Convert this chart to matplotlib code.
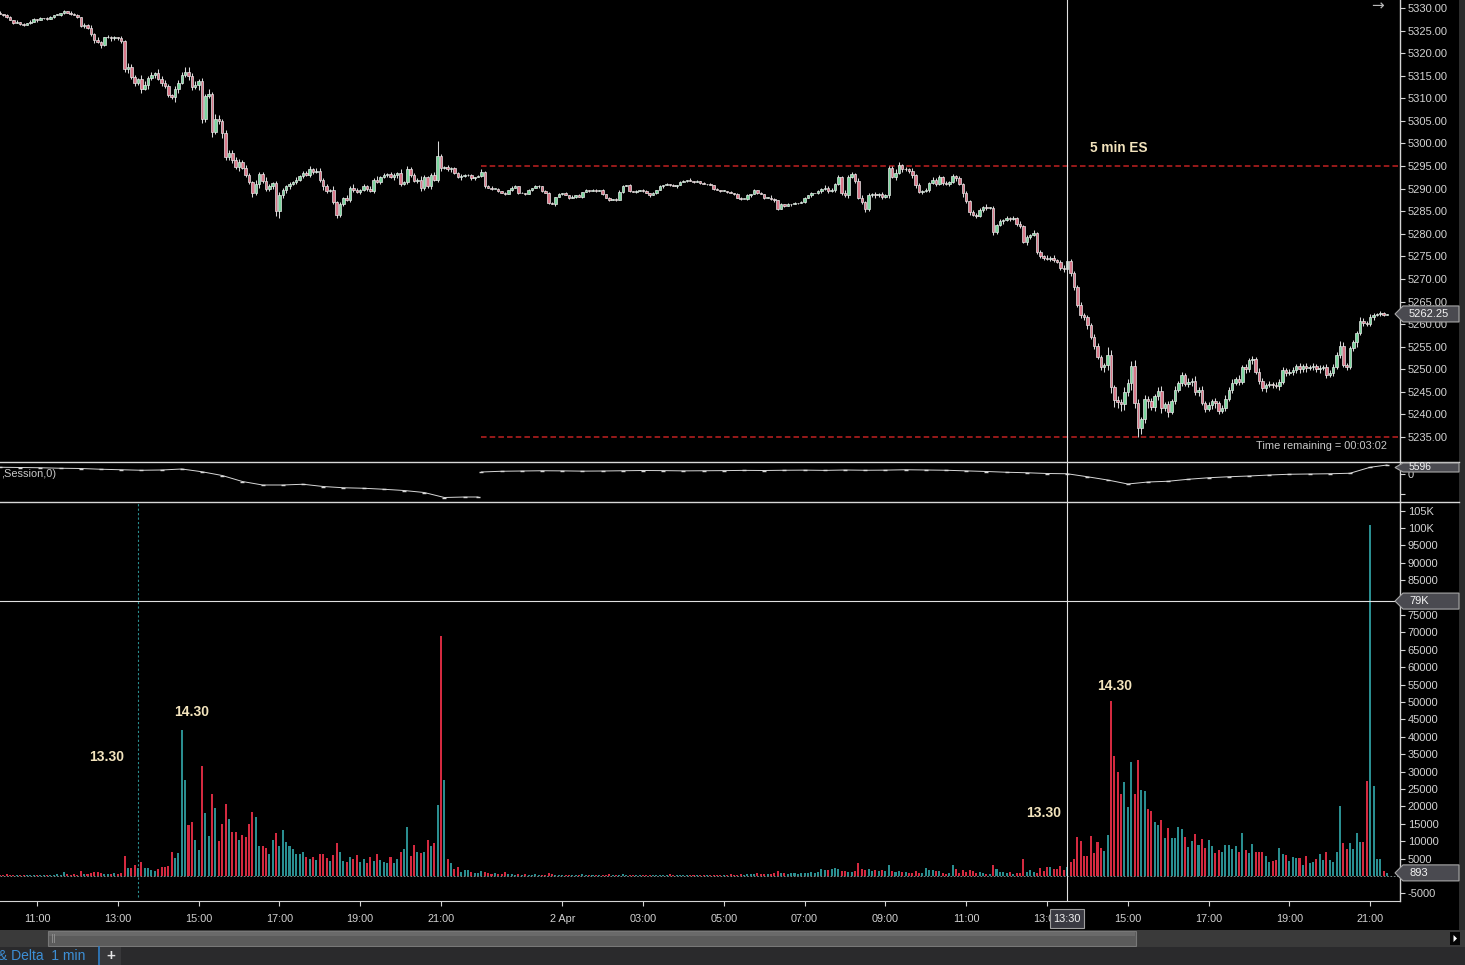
import numpy as np
import matplotlib
matplotlib.use("Agg")
import matplotlib.pyplot as plt
from matplotlib.patches import Rectangle, Polygon

plt.rcParams['font.family'] = ['Liberation Sans', 'DejaVu Sans']

W, H = 1465, 965

# ---------------- data (5-minute bars) ----------------
OPEN_FIRST = 5329.0
# session 1: 1 Apr 10:05 .. 21:55
CLOSE_1 = [
    5328.75, 5328.5, 5328.0, 5327.25, 5326.75, 5327.0, 5326.5, 5326.25, 5326.75, 5327.0,
    5327.5, 5327.25, 5327.75, 5327.75, 5327.5, 5328.0, 5328.5, 5328.5, 5329.0, 5329.25,
    5329.0, 5328.75, 5328.5, 5328.0, 5326.0, 5326.25, 5325.5, 5324.25, 5323.0, 5322.5,
    5321.75, 5323.5, 5323.5, 5323.25, 5323.5, 5323.25, 5322.75, 5316.5, 5317.0, 5314.75,
    5313.5, 5314.25, 5312.0, 5313.0, 5314.5, 5315.25, 5315.5, 5314.25, 5313.5, 5312.75,
    5310.75, 5310.25, 5312.0, 5313.5, 5315.25, 5315.75, 5315.0, 5312.5, 5313.0, 5313.75,
    5305.5, 5310.5, 5311.0, 5302.5, 5305.5, 5305.0, 5302.25, 5297.0, 5298.0, 5296.25,
    5294.75, 5296.0, 5294.5, 5293.0, 5291.5, 5289.0, 5291.0, 5293.25, 5291.75, 5290.0,
    5290.5, 5291.25, 5285.0, 5288.5, 5289.75, 5290.5, 5291.0, 5291.5, 5292.0, 5292.75,
    5293.5, 5293.0, 5294.25, 5293.75, 5294.0, 5292.0, 5290.5, 5289.5, 5289.75, 5287.0,
    5284.25, 5286.5, 5288.0, 5287.5, 5290.25, 5289.75, 5289.25, 5289.75, 5290.5, 5290.0,
    5289.5, 5292.0, 5291.5, 5292.5, 5293.0, 5293.25, 5292.5, 5293.0, 5293.5, 5291.0,
    5291.5, 5294.25, 5293.0, 5291.75, 5292.0, 5290.25, 5292.5, 5290.5, 5293.0, 5292.0,
    5297.25, 5294.5, 5294.75, 5294.25, 5294.5, 5293.5, 5292.5, 5292.75, 5293.0, 5293.0,
    5292.25, 5292.5, 5292.75,
]
# session 2: 1 Apr 23:00 .. 2 Apr 21:25
CLOSE_2 = [
    5293.75, 5290.5, 5290.25, 5290.0, 5290.0, 5289.5, 5289.0, 5288.75, 5289.75, 5290.25,
    5290.5, 5289.0, 5289.0, 5288.75, 5289.75, 5290.25, 5290.5, 5290.5, 5289.5, 5289.0,
    5286.75, 5286.5, 5288.25, 5288.75, 5289.0, 5288.5, 5288.0, 5288.25, 5288.5, 5288.25,
    5289.25, 5289.75, 5289.5, 5289.75, 5289.5, 5289.75, 5288.75, 5288.0, 5287.5, 5287.75,
    5287.5, 5289.25, 5290.5, 5290.75, 5289.5, 5289.25, 5289.5, 5289.75, 5289.5, 5289.0,
    5288.5, 5289.0, 5289.75, 5290.5, 5290.75, 5291.0, 5290.75, 5290.5, 5290.75, 5291.5,
    5291.75, 5292.0, 5291.75, 5291.5, 5291.75, 5291.25, 5291.0, 5291.0, 5290.75, 5290.0,
    5289.75, 5289.5, 5289.5, 5289.25, 5289.0, 5288.75, 5288.0, 5287.75, 5287.75, 5288.5,
    5288.75, 5289.75, 5289.0, 5288.75, 5288.0, 5288.0, 5287.75, 5287.5, 5285.5, 5286.5,
    5286.25, 5286.5, 5286.5, 5286.75, 5286.75, 5287.0, 5288.0, 5288.5, 5289.0, 5289.0,
    5289.5, 5290.0, 5290.25, 5289.5, 5289.75, 5291.0, 5292.5, 5289.0, 5288.5, 5292.5,
    5293.25, 5291.75, 5288.0, 5287.0, 5285.5, 5288.5, 5288.75, 5288.5, 5288.75, 5288.25,
    5288.5, 5294.5, 5292.5, 5293.5, 5295.25, 5294.25, 5294.25, 5294.0, 5293.0, 5290.75,
    5289.25, 5289.5, 5289.75, 5291.25, 5292.0, 5291.0, 5292.5, 5291.25, 5291.0, 5291.5,
    5292.75, 5292.25, 5291.0, 5289.0, 5287.25, 5284.75, 5284.25, 5284.0, 5285.25, 5286.0,
    5285.75, 5285.75, 5280.5, 5282.0, 5282.75, 5283.0, 5283.5, 5283.25, 5283.5, 5282.25,
    5281.75, 5278.25, 5279.25, 5279.75, 5280.25, 5276.0, 5275.0, 5274.75, 5274.5, 5274.75,
    5274.25, 5273.75, 5272.5, 5272.25, 5274.0, 5271.25, 5268.25, 5264.25, 5262.0, 5261.5,
    5259.75, 5257.25, 5255.25, 5252.75, 5250.5, 5251.0, 5253.25, 5246.0, 5243.25, 5242.75,
    5242.25, 5245.0, 5247.0, 5250.75, 5242.5, 5237.0, 5239.0, 5243.5, 5243.0, 5241.75,
    5244.0, 5245.25, 5241.5, 5242.25, 5240.5, 5243.0, 5245.5, 5247.0, 5248.75, 5246.75,
    5247.25, 5247.5, 5245.0, 5245.5, 5242.5, 5241.25, 5242.0, 5243.0, 5242.5, 5240.75,
    5241.5, 5243.5, 5245.5, 5247.0, 5247.75, 5247.25, 5250.5, 5250.0, 5252.0, 5252.25,
    5249.5, 5247.5, 5245.75, 5246.5, 5246.75, 5246.5, 5246.25, 5247.25, 5249.75, 5249.25,
    5249.5, 5249.75, 5250.75, 5250.0, 5250.75, 5250.25, 5250.5, 5250.75, 5250.0, 5250.25,
    5250.5, 5248.75, 5249.25, 5250.5, 5253.25, 5255.25, 5251.0, 5250.5, 5254.75, 5256.0,
    5258.0, 5260.75, 5260.25, 5260.0, 5261.5, 5262.0, 5262.25, 5262.5, 5262.0, 5262.25,
]
# wick lengths beyond the body, in ticks of 0.25 (base 36 digits)
HI_WICK_1 = ("1011010101" "1010110101" "0111021312" "1021102132" "2143221432"
             "2132255232" "3242432322" "3213214223" "2123212121" "2231221213"
             "1212132121" "2131212213" "1322132123" "d212111211" "101")
LO_WICK_1 = ("0110101101" "0101101011" "0101121231" "2112112342" "3231423132"
             "2243124325" "4324234332" "2312232322" "2246232121" "2122123212"
             "3211221212" "1212121232" "1221232121" "2211211211" "110")
HI_WICK_2 = ("2111010101" "1010101101" "1101010101" "0101101010" "1210101011"
             "0101010101" "1010101010" "1010101101" "0101012101" "0101011010"
             "1121212132" "2122121212" "1223312121" "2121212121" "2121212121"
             "2121212121" "2121212121" "2122122232" "2222227423" "3434542323"
             "2342323232" "3242323232" "2323242323" "2322323232" "2323232323"
             "2323243222" "2322321210")
LO_WICK_2 = ("1101010101" "0101010110" "1010101010" "1010101010" "1010101010"
             "1010101010" "0101010101" "0101010101" "1010101210" "1010101010"
             "1212121212" "1212321212" "1212121232" "1212121212" "1213221212"
             "2132121212" "2132121212" "2123223232" "3232345565" "6546485463"
             "4353423232" "3434232343" "2323232323" "2323232323" "2323232323"
             "2323232323" "4232221210")

VOL_1 = [
    400, 300, 500, 300, 200, 400, 300, 300, 200, 300,
    300, 200, 300, 200, 300, 400, 300, 500, 400, 1200,
    600, 400, 500, 300, 1300, 600, 700, 1000, 1100, 1100,
    900, 600, 700, 500, 800, 600, 900, 5700, 2300, 2300,
    3200, 2300, 4000, 2300, 2300, 1800, 1500, 2000, 2600, 2600,
    2800, 6900, 5100, 6600, 42000, 27600, 14700, 15500, 10300, 7500,
    31600, 18100, 11500, 23600, 19500, 10100, 14900, 20700, 16400, 12600,
    12600, 10300, 11800, 11200, 14900, 18400, 16900, 8600, 8600, 8000,
    6300, 10300, 12500, 8600, 13200, 9800, 8600, 7800, 6300, 6300,
    7000, 5500, 5000, 5500, 4600, 6300, 6300, 5200, 4400, 6000,
    9500, 7000, 4300, 4000, 5500, 4900, 6100, 4000, 4900, 3700,
    5500, 4300, 6300, 4600, 4100, 3800, 5500, 3700, 5000, 6800,
    7700, 14100, 5700, 8900, 6800, 6500, 7000, 10300, 8500, 9500,
    20400, 69000, 27600, 4900, 3700, 2000, 2600, 1200, 1800, 1800,
    1200, 900, 800,
]
VOL_2 = [
    1500, 1100, 900, 700, 800, 600, 700, 1200, 500, 600,
    400, 500, 300, 600, 400, 300, 500, 200, 400, 300,
    900, 500, 400, 300, 200, 300, 400, 300, 200, 300,
    500, 400, 300, 200, 400, 300, 200, 300, 500, 400,
    300, 400, 600, 400, 300, 200, 300, 200, 400, 300,
    200, 300, 400, 300, 200, 300, 500, 400, 300, 200,
    300, 200, 300, 400, 200, 300, 200, 300, 400, 300,
    200, 300, 400, 300, 500, 300, 400, 500, 400, 600,
    500, 700, 1000, 600, 500, 700, 600, 800, 1300, 900,
    800, 700, 900, 800, 700, 900, 1000, 900, 1100, 1000,
    1200, 2100, 1800, 1700, 2000, 2400, 2100, 1300, 1300, 1100,
    1200, 1400, 3600, 2000, 1600, 2100, 1300, 1600, 1500, 1700,
    1400, 3300, 1300, 1200, 1300, 1200, 1100, 1000, 1000, 1500,
    800, 1000, 2400, 1800, 1800, 1300, 1500, 1000, 700, 800,
    3300, 2100, 900, 1800, 1200, 1800, 1300, 900, 1200, 800,
    600, 600, 3200, 1900, 1200, 1200, 800, 1100, 600, 800,
    800, 4800, 1100, 1700, 1100, 1000, 2200, 1500, 2500, 2500,
    2000, 2000, 2900, 1700, 2500, 4000, 4900, 11300, 10100, 5800,
    5800, 11500, 6500, 9800, 8000, 7300, 11900, 50300, 34500, 29800,
    23600, 27000, 19900, 32800, 23600, 33300, 24700, 24400, 19300, 18700,
    15500, 14700, 16100, 10900, 13700, 10800, 10800, 14200, 13500, 11300,
    8400, 10100, 12100, 8900, 10600, 8000, 10300, 8600, 6500, 7500,
    6800, 8900, 8900, 7800, 8600, 6800, 12300, 7500, 6500, 9200,
    7000, 6800, 6800, 5700, 4100, 4300, 4600, 8000, 6200, 5900,
    4300, 5600, 5100, 5100, 3200, 5700, 3800, 4100, 4800, 6200,
    4600, 6900, 4600, 3900, 6900, 20100, 9600, 7700, 9600, 7700,
    12300, 9900, 9700, 27400, 101000, 26000, 5000, 5000, 1500, 893,
]
# session indicator (cumulative delta), one value every 30 min plus the last bar
CDELTA_1 = [3800, 3600, 3400, 3000, 2800, 2200, 1800, 1400, 1600, 2400, 200, -2800,
            -7600, -10400, -10400, -9800, -11600, -12600, -13000, -13800, -14800,
            -16400, -20400, -20000, -20000]
CDELTA_2 = [0, 600, 800, 1000, 900, 700, 800, 1000, 1200, 1100, 900, 1000, 1100, 1300,
            1200, 1400, 1500, 1300, 1600, 1400, 1500, 1800, 1600, 1400, 900, 400, -200,
            -600, -1200, -1400, -3800, -6400, -9600, -8000, -7400, -5800, -4600, -3800,
            -3200, -2400, -1800, -1600, -1400, -1000, 3800, 5596]

LEVELS = [5295.0, 5235.0]
CROSS_T = 36.5          # 2 Apr 13:30 on the session-compressed hour scale
CROSS_VOL = 79000
TIME_TICKS = [11, 13, 15, 17, 19, 21, 24, 26, 28, 30, 32, 34, 36, 38, 40, 42, 44]
TIME_LABELS = ['11:00', '13:00', '15:00', '17:00', '19:00', '21:00', '2 Apr', '03:00',
               '05:00', '07:00', '09:00', '11:00', '13:00', '15:00', '17:00', '19:00', '21:00']
# hand-written notes (pixel positions on the screen)
NOTES = [('13.30', 107, 757), ('14.30', 192, 712), ('13.30', 1044, 813), ('14.30', 1115, 686)]

for a, b in [(HI_WICK_1, CLOSE_1), (LO_WICK_1, CLOSE_1), (HI_WICK_2, CLOSE_2), (LO_WICK_2, CLOSE_2)]:
    assert len(a) == len(b), (len(a), len(b))
assert len(VOL_1) == len(CLOSE_1) and len(VOL_2) == len(CLOSE_2)

# ---------------- derived arrays ----------------
n1, n2 = len(CLOSE_1), len(CLOSE_2)
t = np.concatenate([10 + 5 / 60 + np.arange(n1) / 12, 22 + np.arange(n2) / 12])
close = np.array(CLOSE_1 + CLOSE_2)
opn = np.concatenate([[OPEN_FIRST], close[:-1]])
hw = np.array([int(c, 36) for c in HI_WICK_1 + HI_WICK_2]) * 0.25
lw_ = np.array([int(c, 36) for c in LO_WICK_1 + LO_WICK_2]) * 0.25
high = np.maximum(opn, close) + hw
low = np.minimum(opn, close) - lw_
vol = np.array(VOL_1 + VOL_2)
up = close >= opn

XMIN = 11 - 37 / 40.4
XMAX = XMIN + 1400 / 40.4

BG = '#000000'
AXC = '#d4d4d4'
LBL = '#d2d2d2'
TEAL = '#2a8e90'
RED = '#d42a40'
FS = 8.0

fig = plt.figure(figsize=(W / 100, H / 100), dpi=100)
fig.patch.set_facecolor(BG)


def px_axes(x0, y0, x1, y1):
    return fig.add_axes([x0 / W, 1 - y1 / H, (x1 - x0) / W, (y1 - y0) / H])


def style(ax):
    ax.set_facecolor(BG)
    for s in ('top', 'left', 'bottom'):
        ax.spines[s].set_visible(False)
    ax.spines['right'].set_color(AXC)
    ax.spines['right'].set_linewidth(1.0)
    ax.yaxis.tick_right()
    ax.tick_params(axis='y', colors=AXC, labelcolor=LBL, length=3.6, width=0.8,
                   pad=2.0, labelsize=FS, direction='out')
    ax.set_xlim(XMIN, XMAX)
    ax.set_xticks([])


# ---- price panel ----
ax = px_axes(0, 0, 1400, 462)
style(ax)
ax.set_ylim(5330 - 454 / 4.516, 5330 + 8 / 4.516)
ax.set_yticks(np.arange(5235, 5331, 5))
ax.set_yticklabels([f'{v:.2f}' for v in np.arange(5235, 5331, 5)])
ax.vlines(t, low, high, color='#d8d8d8', lw=0.75, zorder=2)
ax.bar(t, np.maximum(np.abs(close - opn), 0.12), bottom=np.minimum(opn, close), width=0.062,
       color=np.where(up, '#7bd69e', '#d9788a'), edgecolor='#e8e8e8', linewidth=0.5, zorder=3)
ax.hlines(LEVELS, 22.0, XMAX, color='#aa1d1d', lw=1.25, ls=(0, (3.2, 1.8)), zorder=1)
ax.axvline(CROSS_T, color='#e0e0e0', lw=0.8, zorder=4)

# ---- session panel ----
axs = px_axes(0, 462, 1400, 502)
style(axs)
axs.set_ylim(-24000, 8000)
axs.set_yticks([-1200, -17500])
axs.set_yticklabels(['0', ''])
ts1 = np.append(t[:n1][::6], t[n1 - 1])
ts2 = np.append(t[n1:][::6], t[-1])
for tt, cd in ((ts1, CDELTA_1), (ts2, CDELTA_2)):
    axs.plot(tt, cd, color='#d8d8d8', lw=0.7, marker='_', ms=3.5, mew=1.0)
axs.axvline(CROSS_T, color='#e0e0e0', lw=0.8)

# ---- volume panel ----
axv = px_axes(0, 502, 1400, 901)
style(axv)
axv.spines['bottom'].set_visible(True)
axv.spines['bottom'].set_color(AXC)
axv.set_ylim(-25 / 3.48 * 1000, 374 / 3.48 * 1000)
vt = np.arange(-5000, 105001, 5000)
axv.set_yticks(vt)
# the 0 and 80000 labels sit under the value tags on screen
axv.set_yticklabels(['' if v in (0, 80000) else (f'{v // 1000}K' if v >= 100000 else f'{v}')
                     for v in vt])
axv.bar(t, vol, width=0.05, color=np.where(up, TEAL, RED), zorder=2)
axv.axhline(0, color='#8fa0a0', lw=0.6, ls=(0, (2, 2)), zorder=1)
axv.axvline(13.5, ymin=0.01, color=TEAL, lw=0.8, ls=(0, (2, 2)), zorder=1)
axv.axvline(CROSS_T, color='#e0e0e0', lw=0.8, zorder=4)
axv.axhline(CROSS_VOL, color='#e0e0e0', lw=0.8, zorder=4)
axv.set_xticks(TIME_TICKS)
axv.set_xticklabels(TIME_LABELS)
axv.tick_params(axis='x', colors=AXC, labelcolor=LBL, length=3.6, width=0.8, pad=5.5,
                labelsize=7.8)

# ---- overlay in pixel coordinates ----
ov = fig.add_axes([0, 0, 1, 1], zorder=10)
ov.set_xlim(0, W)
ov.set_ylim(H, 0)
ov.axis('off')
ov.patch.set_visible(False)


def to_px(a, x, y):
    dx, dy = a.transData.transform((x, y))
    return dx, H - dy


def tag(y, text, top=None, fs=FS):
    y0 = y - 8 if top is None else top
    y1 = y + 8 if top is None else top + 9
    ym = (y0 + y1) / 2
    ov.add_patch(Polygon([(1395, ym), (1403, y0), (1459, y0), (1459, y1), (1403, y1)],
                         closed=True, fc='#4a4a50', ec='#a8a8a8', lw=0.8, zorder=5))
    ov.text(1409, ym, text, color='#f4f4f4', fontsize=fs, va='center', ha='left', zorder=6)


for yy in (462, 502):
    ov.plot([0, 1459], [yy, yy], color='#d8d8d8', lw=1.0, zorder=3)

tag(to_px(ax, XMAX, close[-1])[1], f'{close[-1]:.2f}')
tag(None, f'{CDELTA_2[-1]}', top=463, fs=7.4)
tag(to_px(axv, XMAX, CROSS_VOL)[1], f'{CROSS_VOL // 1000}K')
tag(to_px(axv, XMAX, vol[-1])[1], f'{vol[-1]}')

cx = to_px(ax, CROSS_T, 5300)[0]
ov.add_patch(Rectangle((cx - 17, 909), 34, 19, fc='#3a3a42', ec='#a0a0a0', lw=0.8, zorder=5))
ov.text(cx, 918.5, '13:30', color='#f4f4f4', fontsize=7.8, ha='center', va='center', zorder=6)

ov.text(1090, 148, '5 min ES', color='#f3e4bd', fontsize=9.8, weight='bold', va='center', ha='left')
for txt, nx, ny in NOTES:
    ov.text(nx, ny, txt, color='#f3e4bd', fontsize=10, weight='bold', ha='center', va='center')
ov.text(1387, 446, 'Time remaining = 00:03:02', color='#c8c8c8', fontsize=7.9, ha='right', va='center')
ov.text(1, 474, ',Session,0)', color='#c8c8c8', fontsize=7.9, ha='left', va='center')
ov.text(1377, 6, '\u2192', color='#b8b8b8', fontsize=11, ha='center', va='center',
        family='DejaVu Sans')

# scrollbar, tab strip
ov.add_patch(Rectangle((1459, 0), 6, 930, fc='#2c2c2c', ec='none'))
ov.add_patch(Rectangle((0, 930), 1465, 17, fc='#3a3a3a', ec='none'))
ov.add_patch(Rectangle((48, 931), 1088, 15, fc='#5b5b5b', ec='#787878', lw=0.8))
ov.add_patch(Rectangle((49, 931.5), 1086, 4, fc='#6a6a6a', ec='none'))
for gx in (51.5, 53.5):
    ov.plot([gx, gx], [934, 942], color='#8c8c8c', lw=0.7)
ov.add_patch(Rectangle((1450, 932), 10, 13, fc='#050505', ec='none'))
ov.add_patch(Polygon([(1453.5, 935), (1453.5, 942), (1457, 938.5)], closed=True, fc='white'))
ov.add_patch(Rectangle((0, 947), 1465, 18, fc='#2a2a2c', ec='none'))
ov.plot([99, 99], [947, 965], color='#2f7fc8', lw=1.2)
ov.add_patch(Rectangle((100, 947), 21, 18, fc='#38383a', ec='none'))
ov.text(-2, 956, '& Delta  1 min', color='#3d8fd6', fontsize=10, ha='left', va='center')
ov.text(110.5, 956, '+', color='#e6e6e6', fontsize=11, weight='bold', ha='center', va='center')

fig.savefig('out.png', dpi=100, facecolor=BG)
